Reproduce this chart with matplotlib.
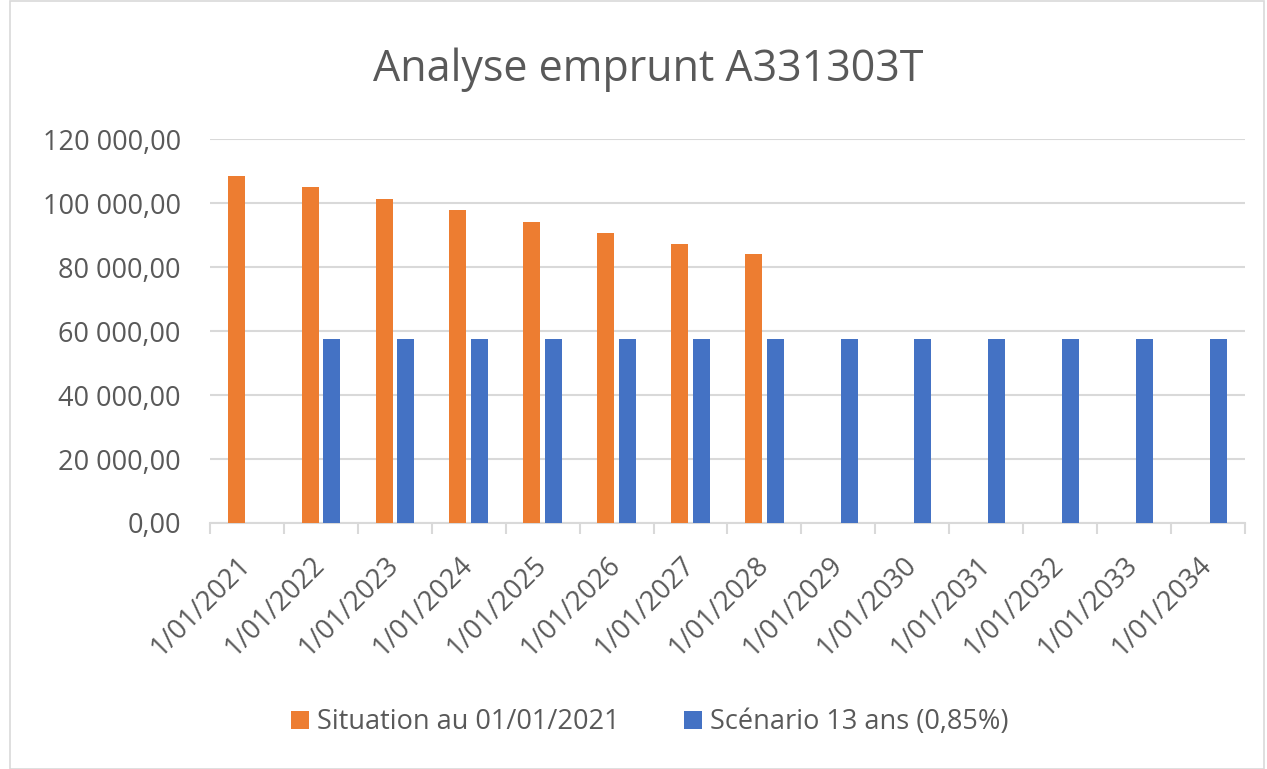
import matplotlib
matplotlib.use("Agg")
import matplotlib.pyplot as plt
import numpy as np
from matplotlib.ticker import FuncFormatter, FixedLocator
from matplotlib.patches import Rectangle
from matplotlib.transforms import ScaledTranslation

categories = ["1/01/2021", "1/01/2022", "1/01/2023", "1/01/2024", "1/01/2025",
              "1/01/2026", "1/01/2027", "1/01/2028", "1/01/2029", "1/01/2030",
              "1/01/2031", "1/01/2032", "1/01/2033", "1/01/2034"]
situation = [108500, 104900, 101250, 97800, 94150, 90600, 87100, 84100,
             np.nan, np.nan, np.nan, np.nan, np.nan, np.nan]
scenario = [np.nan, 57500, 57500, 57500, 57500, 57500, 57500, 57500,
            57500, 57500, 57500, 57500, 57500, 57500]
series_names = ["Situation au 01/01/2021", "Scénario 13 ans (0,85%)"]
title = "Analyse emprunt A331303T"

plt.rcParams['font.family'] = ['Open Sans', 'DejaVu Sans']
txt = '#595959'
grid = '#d9d9d9'

fig = plt.figure(figsize=(12.67, 7.69), dpi=100)
fig.patches.append(Rectangle((0.008, 0.0), 0.99, 0.999, transform=fig.transFigure,
                             fill=False, edgecolor='#d9d9d9', linewidth=1.2))
ax = fig.add_axes([0.1657, 0.3199, 0.8169, 0.4993])

x = np.arange(len(categories))
w = 0.23
off = 0.145
ax.bar(x - off, situation, width=w, color='#ED7D31', label=series_names[0], zorder=3)
ax.bar(x + off, scenario, width=w, color='#4472C4', label=series_names[1], zorder=3)

ax.set_xlim(-0.5, len(categories) - 0.5)
ax.set_ylim(0, 120000)
ax.set_yticks(np.arange(0, 120001, 20000))
ax.yaxis.set_major_formatter(FuncFormatter(
    lambda v, p: f"{v:,.2f}".replace(",", " ").replace(".", ",")))
ax.yaxis.grid(True, color=grid, linewidth=1.5, zorder=0)
ax.tick_params(axis='y', length=0, labelsize=19.5, labelcolor=txt, pad=21)

ax.set_xticks(x)
ax.set_xticklabels(categories, rotation=45, ha='right', rotation_mode='anchor',
                   fontsize=19.5, color=txt)
ax.xaxis.set_minor_locator(FixedLocator(np.arange(-0.5, len(categories), 1)))
ax.tick_params(axis='x', which='major', length=0, pad=20)
ax.tick_params(axis='x', which='minor', length=8, color=grid, width=1.5)
shift = ScaledTranslation(-0.10, 0, fig.dpi_scale_trans)
for lab in ax.get_xticklabels():
    lab.set_transform(lab.get_transform() + shift)

for s in ['top', 'right', 'left']:
    ax.spines[s].set_visible(False)
ax.spines['bottom'].set_color(grid)
ax.spines['bottom'].set_linewidth(1.5)

fig.text(0.5117, 0.909, title, ha='center', va='center', fontsize=31, color=txt)

ax.legend(loc='center', bbox_to_anchor=(0.425, -0.5185), ncol=2, frameon=False,
          fontsize=19.5, labelcolor=txt, handlelength=0.65, handleheight=0.65,
          columnspacing=2.4, handletextpad=0.3)

fig.savefig("out.png", dpi=100)
